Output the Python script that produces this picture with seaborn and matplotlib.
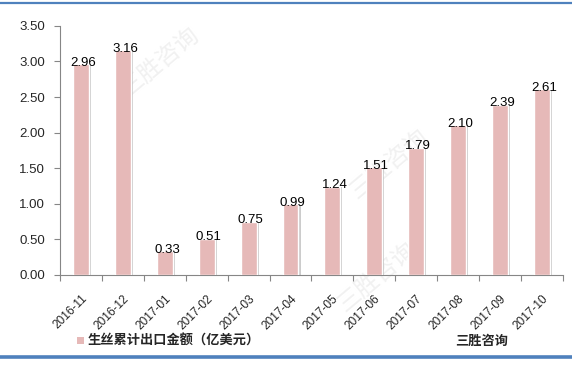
import matplotlib
matplotlib.use("Agg")
import matplotlib.pyplot as plt
import matplotlib.patheffects as pe
from matplotlib.lines import Line2D
import seaborn as sns
import pandas as pd
import numpy as np

# data
months = ["2016-11", "2016-12", "2017-01", "2017-02", "2017-03", "2017-04",
          "2017-05", "2017-06", "2017-07", "2017-08", "2017-09", "2017-10"]
export_value = [2.96, 3.16, 0.33, 0.51, 0.75, 0.99, 1.24, 1.51, 1.79, 2.10, 2.39, 2.61]
y_ticks = [0.0, 0.5, 1.0, 1.5, 2.0, 2.5, 3.0, 3.5]
series_name = "生丝累计出口金额（亿美元）"
source_name = "三胜咨询"

sns.set_theme(style="white")
plt.rcParams["font.family"] = ["Liberation Sans", "Noto Sans CJK SC", "DejaVu Sans"]

df = pd.DataFrame({"month": months, "value": export_value})

fig = plt.figure(figsize=(5.72, 3.65), dpi=100)
ax = fig.add_axes([0.105, 0.247, 0.879, 0.682])
ax.set_facecolor("none")

# faint watermarks behind the plot
for (wx, wy) in [(0.28, 0.83), (0.68, 0.55), (0.66, 0.24)]:
    fig.text(wx, wy, "三胜咨询", fontsize=17, color="#f1f1f1", rotation=40,
             ha="center", va="center", family=["Noto Sans CJK SC"], zorder=-5)

sns.barplot(data=df, x="month", y="value", color="#E6B9B8", width=0.38,
            saturation=1, ax=ax, zorder=3)
for bar in ax.patches:
    bar.set_path_effects([pe.SimplePatchShadow(offset=(1.5, -0.5), shadow_rgbFace="#9a9a9a", alpha=0.5),
                          pe.Normal()])

for i, v in enumerate(export_value):
    ax.text(i + 0.05, v + 0.02, f"{v:.2f}", ha="center", va="center", fontsize=9.5,
            color="black", zorder=5)

ax.set_xlim(-0.5, len(months) - 0.5)
ax.set_ylim(0, 3.5)
ax.set_yticks(y_ticks)
ax.set_yticklabels([f"{t:.2f}" for t in y_ticks], fontsize=9.5)
ax.set_xlabel("")
ax.set_ylabel("")

ax.set_xticks(np.arange(len(months)))
ax.set_xticklabels(months, fontsize=8.6)
plt.setp(ax.get_xticklabels(), rotation=45, ha="right", rotation_mode="anchor")
ax.set_xticks(np.arange(len(months) + 1) - 0.5, minor=True)
ax.tick_params(axis="x", which="major", length=0, pad=13)
ax.tick_params(axis="x", which="minor", length=4, color="#868686", width=0.8, direction="out", bottom=True)
ax.tick_params(axis="y", length=4, color="#868686", width=0.8, direction="out", left=True, pad=7)

for side in ["top", "right"]:
    ax.spines[side].set_visible(False)
for side in ["left", "bottom"]:
    ax.spines[side].set_color("#868686")
    ax.spines[side].set_linewidth(0.8)

# legend and source text
fig.patches.append(plt.Rectangle((0.135, 0.057), 0.011, 0.02, transform=fig.transFigure,
                                 facecolor="#E6B9B8", edgecolor="none"))
fig.text(0.153, 0.067, series_name, fontsize=9.5, fontweight="bold", va="center",
         family=["Noto Sans CJK SC"])
fig.text(0.795, 0.067, source_name, fontsize=9.5, fontweight="bold", va="center",
         family=["Noto Sans CJK SC"])

# blue frame lines
fig.add_artist(Line2D([0, 1], [0.993, 0.993], color="#4F81BD", linewidth=1.6, transform=fig.transFigure))
fig.add_artist(Line2D([0, 1], [0.022, 0.022], color="#4F81BD", linewidth=2.6, transform=fig.transFigure))

fig.savefig("out.png", dpi=100)
